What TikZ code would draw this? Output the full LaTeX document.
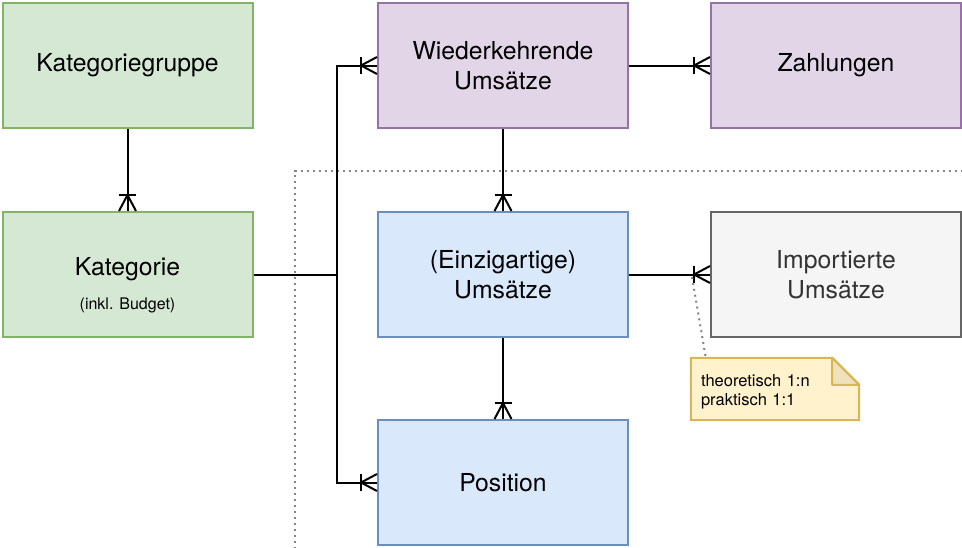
\documentclass[tikz,border=0pt]{standalone}
\usepackage{fontspec}
\setmainfont{TeX Gyre Heros}
\usetikzlibrary{decorations.markings,backgrounds}
\definecolor{grFill}{HTML}{D5E8D4}
\definecolor{grLine}{HTML}{82B366}
\definecolor{puFill}{HTML}{E1D5E7}
\definecolor{puLine}{HTML}{9673A6}
\definecolor{blFill}{HTML}{DAE8FC}
\definecolor{blLine}{HTML}{6C8EBF}
\definecolor{gyFill}{HTML}{F5F5F5}
\definecolor{gyLine}{HTML}{666666}
\definecolor{gyText}{HTML}{333333}
\definecolor{ntFill}{HTML}{FFF2CC}
\definecolor{ntLine}{HTML}{D6B656}
\definecolor{ntFold}{HTML}{EFE1BA}
\definecolor{dotGray}{HTML}{858585}
\begin{document}
\begin{tikzpicture}[x=1pt,y=-1pt,
  box/.style={draw, line width=2pt, minimum width=250pt, minimum height=125pt,
    align=center, inner sep=0pt, font=\fontsize{24.75}{30}\selectfont},
  green/.style={box, fill=grFill, draw=grLine},
  purple/.style={box, fill=puFill, draw=puLine},
  blue/.style={box, fill=blFill, draw=blLine},
  grey/.style={box, fill=gyFill, draw=gyLine, text=gyText},
  conn/.style={line width=2pt},
  crowfoot/.style={conn, postaction={decorate}, decoration={markings,
    mark=at position 1 with {
      \draw[line width=2pt] (-16pt,-8.5pt) -- (-16pt,8.5pt);
      \draw[line width=2pt] (0pt,-8.5pt) -- (-16pt,0pt) -- (0pt,8.5pt);}}},
  dotline/.style={draw=dotGray, line width=2pt, dash pattern=on 2pt off 4pt},
  notebox/.style={minimum width=168pt, minimum height=62pt, inner xsep=10pt,
    inner ysep=0pt, text width=148pt, align=left,
    font=\fontsize{16.5}{18.5}\selectfont}
]
\useasboundingbox (0,0) rectangle (962,547);

% dotted frame
\coordinate (f1) at (295,549);
\coordinate (f3) at (964,170.5);
\draw[dotline] (f1) |- (f3);

% boxes
\node[green]  (kg)  at (127.5,65.5)  {Kategoriegruppe};
\node[green]  (kat) at (127.5,274.5) {\rule{0pt}{40pt}Kategorie\\[4pt]{\fontsize{16}{19}\selectfont(inkl. Budget)}};
\node[purple] (wu)  at (503,65.5)    {Wiederkehrende\\Umsätze};
\node[purple] (za)  at (836,65.5)    {Zahlungen};
\node[blue]   (eu)  at (503,274.5)   {(Einzigartige)\\Umsätze};
\node[grey]   (imp) at (836,274.5)   {Importierte\\Umsätze};
\node[blue]   (pos) at (503,482.5)   {Position};

% note
\node[notebox] (note) at (775,389) {\rule{0pt}{17.9pt}theoretisch 1:n\\praktisch 1:1};
\begin{scope}[on background layer]
  \draw[ntLine, fill=ntFill, line width=2pt]
    (note.north west) -- ([xshift=-27pt]note.north east)
    -- ([yshift=-27pt]note.north east) -- (note.south east)
    -- (note.south west) -- cycle;
  \draw[ntLine, fill=ntFold, line width=2pt, line join=round]
    ([xshift=-27pt]note.north east) -- ([xshift=-27pt,yshift=-27pt]note.north east)
    -- ([yshift=-27pt]note.north east) -- cycle;
\end{scope}

% connectors
\coordinate (j) at (336.5,274.5);
\draw[crowfoot] (kg.south) -- (kat.north);
\draw[conn] (kat.east) -- (j);
\draw[crowfoot] (j) |- (wu.west);
\draw[crowfoot] (j) |- (pos.west);
\draw[crowfoot] (wu.south) -- (eu.north);
\draw[crowfoot] (wu.east) -- (za.west);
\draw[crowfoot] (eu.east) -- (imp.west);
\draw[crowfoot] (eu.south) -- (pos.north);

% note link
\coordinate (nc) at (692,277);
\draw[dotline] (nc) -- ([xshift=15pt]note.north west);
\end{tikzpicture}
\end{document}
